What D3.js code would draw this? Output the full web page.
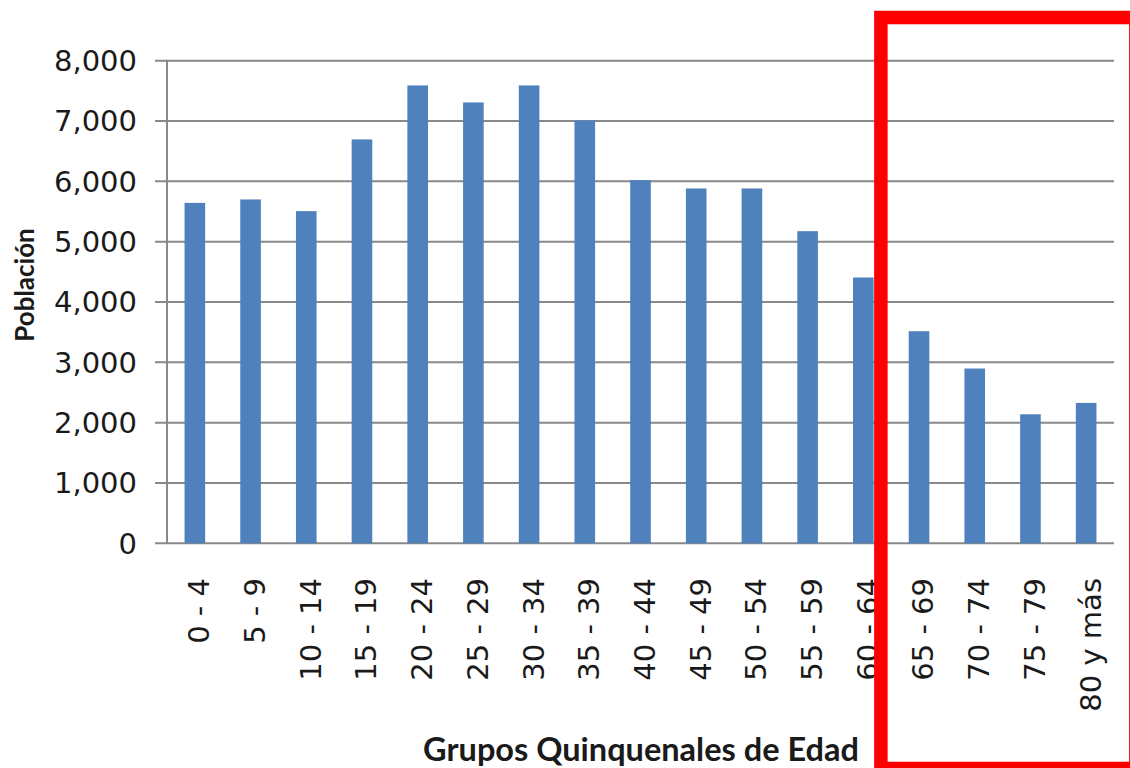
<!DOCTYPE html>
<html>
<head>
<meta charset="utf-8">
<script src="https://cdn.jsdelivr.net/npm/d3@7"></script>
<style>
  body { margin: 0; background: #fff; }
  svg { display: block; }
</style>
</head>
<body>
<div id="chart"></div>
<script>
//////////////////////////////////////////////////////////////////////////////
// Data

var grupos = ["0 - 4", "5 - 9", "10 - 14", "15 - 19", "20 - 24", "25 - 29",
              "30 - 34", "35 - 39", "40 - 44", "45 - 49", "50 - 54", "55 - 59",
              "60 - 64", "65 - 69", "70 - 74", "75 - 79", "80 y más"];
var poblacion = [5643, 5700, 5506, 6695, 7590, 7308, 7590, 7010, 6020, 5882,
                 5882, 5174, 4406, 3516, 2897, 2139, 2327];
var yTicks = [0, 1000, 2000, 3000, 4000, 5000, 6000, 7000, 8000];
var resaltados = ["65 - 69", "70 - 74", "75 - 79", "80 y más"];

var data = grupos.map(function(g, i) { return {grupo: g, valor: poblacion[i]}; });

//////////////////////////////////////////////////////////////////////////////
// Global variables, preliminaries

var width = 1130, height = 768;
var plotLeft = 167, plotRight = 1114, plotTop = 60.7, plotBottom = 543.3;
var gridColor = "#898989";
var barColor = "#4F81BD";
var labelFont = "'DejaVu Sans', sans-serif";
var titleFont = "Lato, 'Open Sans', sans-serif";

var xScale = d3.scaleBand().domain(grupos).range([plotLeft, plotRight])
    .paddingInner(0.63).paddingOuter(0.315);
var yScale = d3.scaleLinear().domain([0, 8000]).range([plotBottom, plotTop]);

var svg = d3.select("#chart")
    .append("svg")
    .attr("width", width)
    .attr("height", height);

// gridlines (with the little tick stubs left of the axis)
svg.append("g")
    .selectAll("line")
    .data(yTicks)
    .enter()
    .append("line")
    .attr("x1", plotLeft - 12)
    .attr("x2", plotRight)
    .attr("y1", function(d) { return yScale(d); })
    .attr("y2", function(d) { return yScale(d); })
    .attr("stroke", gridColor)
    .attr("stroke-width", 2);

// vertical axis line
svg.append("line")
    .attr("x1", plotLeft).attr("x2", plotLeft)
    .attr("y1", yScale(8000)).attr("y2", yScale(0))
    .attr("stroke", gridColor)
    .attr("stroke-width", 2);

// y tick labels
svg.append("g")
    .selectAll("text")
    .data(yTicks)
    .enter()
    .append("text")
    .attr("x", plotLeft - 30)
    .attr("y", function(d) { return yScale(d); })
    .attr("dy", "0.36em")
    .attr("text-anchor", "end")
    .style("font-family", labelFont)
    .style("font-size", "29px")
    .attr("fill", "#1a1a1a")
    .text(d3.format(","));

// bars
svg.append("g")
    .selectAll("rect")
    .data(data)
    .enter()
    .append("rect")
    .attr("x", function(d) { return xScale(d.grupo); })
    .attr("y", function(d) { return yScale(d.valor); })
    .attr("width", xScale.bandwidth())
    .attr("height", function(d) { return yScale(0) - yScale(d.valor); })
    .attr("fill", barColor);

// x labels, rotated
svg.append("g")
    .selectAll("text")
    .data(grupos)
    .enter()
    .append("text")
    .attr("transform", function(d) {
        var cx = xScale(d) + xScale.bandwidth() / 2 + 4;
        return "translate(" + cx + "," + 578 + ") rotate(-90)";
    })
    .attr("dy", "0.36em")
    .attr("text-anchor", "end")
    .style("font-family", labelFont)
    .style("font-size", "29px")
    .attr("fill", "#1a1a1a")
    .text(function(d) { return d; });

// axis titles
svg.append("text")
    .attr("transform", "translate(34,285) rotate(-90)")
    .attr("text-anchor", "middle")
    .style("font-family", titleFont)
    .style("font-weight", "bold")
    .style("font-size", "26px")
    .attr("fill", "#1a1a1a")
    .text("Población");

svg.append("text")
    .attr("x", 641)
    .attr("y", 761)
    .attr("text-anchor", "middle")
    .style("font-family", titleFont)
    .style("font-weight", "bold")
    .style("font-size", "32.5px")
    .attr("fill", "#1a1a1a")
    .text("Grupos Quinquenales de Edad");

// red highlight box around the older groups
var boxLeft = xScale(resaltados[0]) - xScale.step() * 0.5;
svg.append("rect")
    .attr("x", boxLeft)
    .attr("y", 17.5)
    .attr("width", 255)
    .attr("height", 751)
    .attr("fill", "none")
    .attr("stroke", "#FF0000")
    .attr("stroke-width", 13.5);
</script>
</body>
</html>
